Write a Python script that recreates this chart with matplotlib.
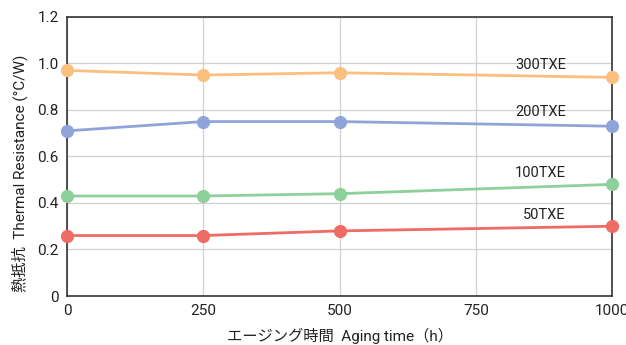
import matplotlib
matplotlib.use("Agg")
import matplotlib.pyplot as plt

hours = [0, 250, 500, 750, 1000]
x_vals = [0, 250, 500, 1000]
s300 = [0.97, 0.95, 0.96, 0.94]
s200 = [0.71, 0.75, 0.75, 0.73]
s100 = [0.43, 0.43, 0.44, 0.48]
s50 = [0.26, 0.26, 0.28, 0.30]
names = ["300TXE", "200TXE", "100TXE", "50TXE"]
label_y = [0.995, 0.79, 0.53, 0.35]
y_ticks = [0, 0.2, 0.4, 0.6, 0.8, 1.0, 1.2]
y_tick_labels = ["0", "0.2", "0.4", "0.6", "0.8", "1.0", "1.2"]

plt.rcParams['font.family'] = ["Roboto", "Noto Sans CJK JP", "DejaVu Sans"]

colors = ["#FBBF7F", "#8FA5DA", "#8ED09A", "#EE6B66"]

fig = plt.figure(figsize=(6.26, 3.45), dpi=100)
ax = fig.add_axes([0.107, 0.142, 0.871, 0.809])

for s, c in zip([s300, s200, s100, s50], colors):
    ax.plot(x_vals, s, color=c, lw=2.0, marker='o', markersize=8.5, clip_on=False, zorder=3)

for n, ly in zip(names, label_y):
    ax.text(915, ly, n, ha='right', va='center', fontsize=10.5, color='#222222')

ax.set_xlim(0, 1000)
ax.set_ylim(0, 1.2)
ax.set_xticks(hours)
ax.set_xticklabels([str(h) for h in hours])
ax.set_yticks(y_ticks)
ax.set_yticklabels(y_tick_labels)
ax.tick_params(length=0, labelsize=11, colors='#222222', pad=6)
ax.grid(True, color='#d0d0d0', lw=0.9)
ax.set_axisbelow(True)
for sp in ax.spines.values():
    sp.set_color('#333333')
    sp.set_linewidth(1.2)

ax.set_ylabel("熱抵抗  Thermal Resistance (°C/W)", fontsize=11, color='#222222')
ax.yaxis.set_label_coords(-0.072, 0.44)
ax.set_xlabel("エージング時間  Aging time（h）", fontsize=11, color='#222222', labelpad=7)

fig.savefig("out.png", dpi=100)
